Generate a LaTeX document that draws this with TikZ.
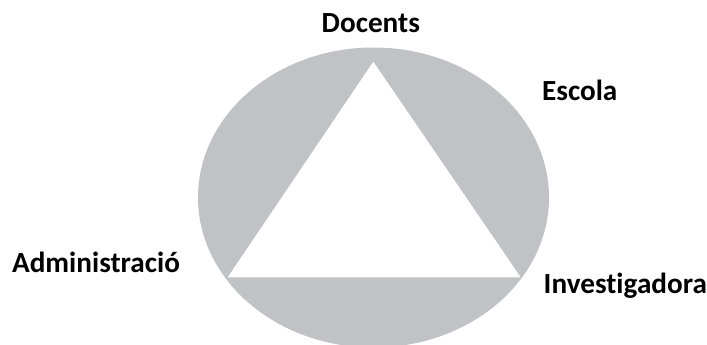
\documentclass[tikz,border=0pt]{standalone}
\usepackage{fontspec}
\setmainfont{Carlito}[Ligatures=NoCommon]
\usetikzlibrary{positioning}
\definecolor{ringgray}{RGB}{192,194,197}

\begin{document}
\begin{tikzpicture}[x=0.5pt, y=-0.5pt, every node/.style={font=\fontsize{14.6}{17}\selectfont\bfseries, inner sep=0pt}]
        \useasboundingbox (0,0) rectangle (707,344);
        % Ellipse and triangle
        \fill[ringgray] (373.5,197.5) ellipse [x radius=175.5, y radius=150];
        \coordinate (top) at (373.3,61.7);
        \coordinate (left) at (227.7,277.3);
        \coordinate (right) at (520.7,277.3);
        \fill[white] (top) -- (left) -- (right) -- cycle;

        % Labels
        \node[anchor=base] (docents) at (370.8,32.7) {Docents};
        \node[anchor=base west] (escola) at (541.7,100) {Escola};
        \node[anchor=base west] (admin) at (11.7,272.3) {Administració};
        \node[anchor=base west] (invest) at (543.3,293.3) {Investigadora};
    \end{tikzpicture}
\end{document}
